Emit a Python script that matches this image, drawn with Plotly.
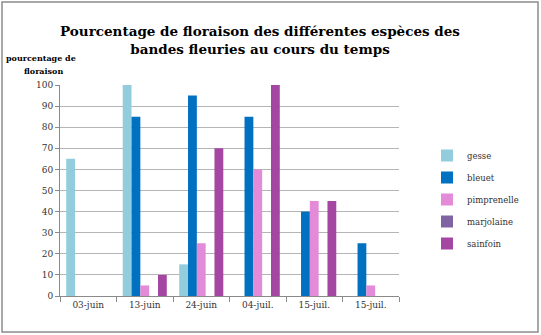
import plotly.graph_objects as go

categories = ["03-juin", "13-juin", "24-juin", "04-juil.", "15-juil.", "15-juil."]
series_names = ["gesse", "bleuet", "pimprenelle", "marjolaine", "sainfoin"]
gesse = [65, 100, 15, 0, 0, 0]
bleuet = [0, 85, 95, 85, 40, 25]
pimprenelle = [0, 5, 25, 60, 45, 5]
marjolaine = [0, 0, 0, 0, 0, 0]
sainfoin = [0, 10, 70, 100, 45, 0]
y_ticks = [0, 10, 20, 30, 40, 50, 60, 70, 80, 90, 100]

colors = ["#93CDDD", "#0070C0", "#E38BD8", "#8064A2", "#A347A3"]
values = [gesse, bleuet, pimprenelle, marjolaine, sainfoin]

positions = list(range(len(categories)))
serif = "DejaVu Serif"

fig = go.Figure()
for name, vals, col in zip(series_names, values, colors):
    fig.add_trace(go.Bar(x=positions, y=vals, name=name, marker_color=col,
                         marker_line_width=0, legendgroup=name))

W, H = 541, 335
L, R, T, B = 60, 142, 85, 39
pw, ph = W - L - R, H - T - B

fig.update_layout(
    width=W, height=H,
    margin=dict(l=L, r=R, t=T, b=B, autoexpand=False),
    paper_bgcolor="white", plot_bgcolor="white",
    barmode="group", bargap=0.22, bargroupgap=0,
    title=dict(text="<b>Pourcentage de floraison des différentes espèces des<br>bandes fleuries au cours du temps</b>",
               x=260 / W, xanchor="center", y=1 - 36 / H, yanchor="middle",
               font=dict(family=serif, size=13.5, color="black")),
    font=dict(family=serif, size=9, color="#333333"),
    legend=dict(xref="container", yref="container", x=427 / W, y=1 - 141 / H,
                xanchor="left", yanchor="top",
                font=dict(family=serif, size=8.5, color="#333333"),
                tracegroupgap=3, itemwidth=30, bgcolor="rgba(0,0,0,0)"),
    xaxis=dict(range=[-0.5, len(categories) - 0.5], tickvals=positions, ticktext=categories,
               ticks="", showgrid=False, showline=True, linecolor="#8a8a8a", linewidth=1,
               zeroline=False, tickfont=dict(family=serif, size=9, color="#333333"),
               minor=dict(tickvals=[p - 0.5 for p in positions] + [len(categories) - 0.5],
                          ticks="outside", ticklen=5, tickcolor="#8a8a8a", showgrid=False)),
    yaxis=dict(range=[0, 100], tickvals=y_ticks, showgrid=True, gridcolor="#b5b5b5",
               showline=True, linecolor="#8a8a8a", linewidth=1, ticks="outside", ticklen=4,
               tickcolor="#8a8a8a", zeroline=False,
               tickfont=dict(family=serif, size=9, color="#333333")),
    shapes=[dict(type="rect", xref="paper", yref="paper",
                 x0=(2 - L) / pw, x1=(538 - L) / pw,
                 y0=(296 - 332) / ph, y1=(296 - 2) / ph,
                 line=dict(color="#8c8c8c", width=1.5), fillcolor="rgba(0,0,0,0)", layer="below")],
    annotations=[
        dict(text="<b>pourcentage de</b>", xref="paper", yref="paper",
             x=(41 - L) / pw, y=(296 - 58) / ph, xanchor="center", yanchor="middle",
             showarrow=False, font=dict(family=serif, size=8, color="black")),
        dict(text="<b>floraison</b>", xref="paper", yref="paper",
             x=(43 - L) / pw, y=(296 - 71) / ph, xanchor="center", yanchor="middle",
             showarrow=False, font=dict(family=serif, size=8, color="black")),
    ],
)

fig.write_html("out.html")
